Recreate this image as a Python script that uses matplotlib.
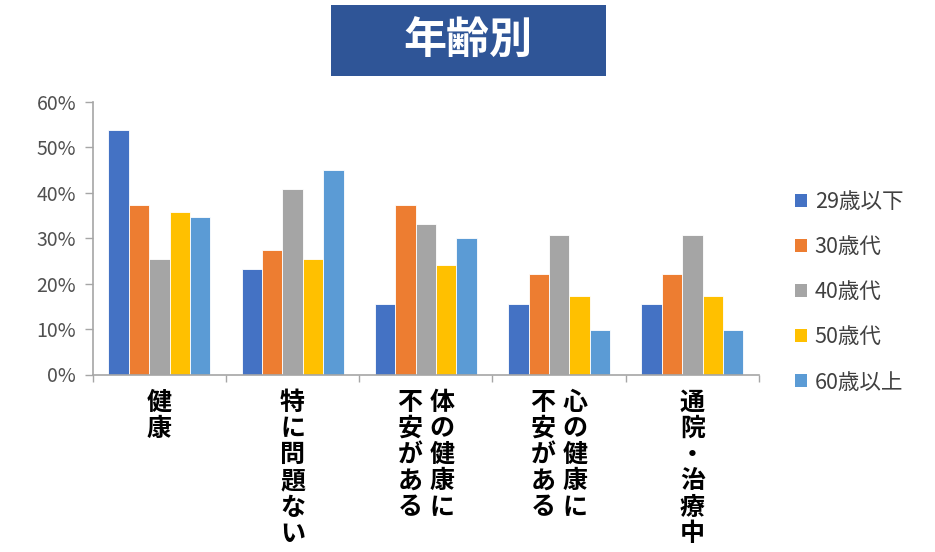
import matplotlib
matplotlib.use("Agg")
import matplotlib.pyplot as plt
import matplotlib.transforms as mtransforms
from matplotlib.patches import Patch
import numpy as np

plt.rcParams['font.family'] = ['Noto Sans CJK JP', 'DejaVu Sans']

# 回答カテゴリ（縦書き：右の列から順に）
categories = [["健康"], ["特に問題ない"], ["体の健康に", "不安がある"],
              ["心の健康に", "不安がある"], ["通院・治療中"]]

# 年代別の割合（%）
age_groups = ["29歳以下", "30歳代", "40歳代", "50歳代", "60歳以上"]
under29 = [53.8, 23.1, 15.4, 15.4, 15.4]
age30 = [37.3, 27.3, 37.3, 22.2, 22.2]
age40 = [25.4, 40.8, 33.1, 30.6, 30.6]
age50 = [35.8, 25.4, 24.1, 17.2, 17.2]
over60 = [34.7, 45.0, 30.0, 9.8, 9.8]
series = [under29, age30, age40, age50, over60]
colors = ["#4472C4", "#ED7D31", "#A5A5A5", "#FFC000", "#5B9BD5"]

fig = plt.figure(figsize=(9.35, 5.52), dpi=100)
ax = fig.add_axes([92.7 / 935, 177.5 / 552, (759 - 92.7) / 935, 272.8 / 552])

x = np.arange(len(categories))
w = 0.153
for i, (vals, c) in enumerate(zip(series, colors)):
    ax.bar(x + (i - 2) * w, vals, width=w, color=c, label=age_groups[i],
           edgecolor="white", linewidth=0.6, zorder=2)

ax.set_xlim(-0.5, len(categories) - 0.5)
ax.set_ylim(0, 60)
ax.set_yticks(range(0, 61, 10))
ax.set_yticklabels([f"{v}%" for v in range(0, 61, 10)], fontsize=14, color="#505050")
ax.tick_params(axis="y", length=6, width=1, color="#A6A6A6", pad=6)

# 区切りの目盛り
ax.set_xticks(np.arange(-0.5, len(categories), 1.0))
ax.set_xticklabels([])
ax.tick_params(axis="x", length=5, width=1, color="#A6A6A6")

for s in ["top", "right"]:
    ax.spines[s].set_visible(False)
for s in ["left", "bottom"]:
    ax.spines[s].set_color("#A6A6A6")
    ax.spines[s].set_linewidth(1.2)

# 縦書きのカテゴリ名
trans = mtransforms.blended_transform_factory(ax.transData, ax.transAxes)
col_gap = 32
for xi, cols in zip(x, categories):
    n = len(cols)
    for j, col in enumerate(cols):
        dx = ((n - 1) / 2 - j) * col_gap
        t = mtransforms.offset_copy(trans, fig=fig, x=dx, y=-16, units="dots")
        ax.text(xi, 0, "\n".join(col), transform=t, ha="center", va="top",
                fontsize=18, fontweight="bold", color="black", linespacing=1.12)

# 凡例
handles = [Patch(facecolor=c) for c in colors]
fig.legend(handles, age_groups, loc="upper left",
           bbox_to_anchor=(776 / 935, 1 - 172 / 552), frameon=False,
           fontsize=15.5, labelcolor="#404040", handlelength=0.55,
           handleheight=0.55, handletextpad=0.35, labelspacing=1.07)

# タイトル
fig.patches.append(plt.Rectangle((331 / 935, 1 - 76 / 552), 275 / 935, 71 / 552,
                                 transform=fig.transFigure, facecolor="#2F5597",
                                 edgecolor="none"))
fig.text(468 / 935, 1 - 41 / 552, "年齢別", ha="center", va="center",
         fontsize=31, fontweight="bold", color="white")

fig.savefig("out.png", dpi=100)
